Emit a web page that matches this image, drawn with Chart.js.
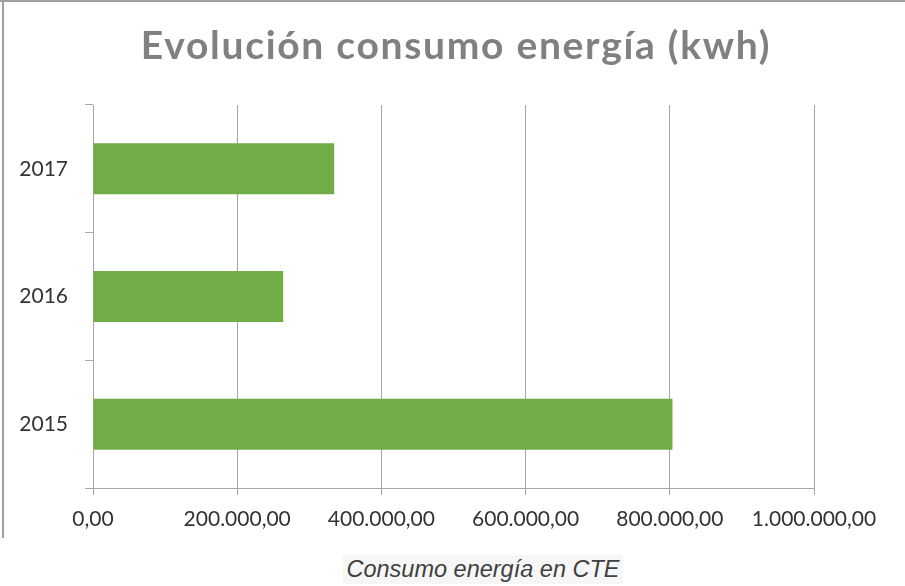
<!DOCTYPE html>
<html>
<head>
<meta charset="utf-8">
<script src="https://cdn.jsdelivr.net/npm/chart.js@4.4.1/dist/chart.umd.min.js"></script>
<style>
  html, body { margin: 0; padding: 0; background: #ffffff; }
  #wrap { position: relative; width: 905px; height: 586px; overflow: hidden; }
  #chart { position: absolute; left: 0; top: 0; width: 905px; height: 586px; }
  #topline { position: absolute; left: 0; top: 0; width: 905px; height: 2px; background: #a0a0a0; }
  #leftline { position: absolute; left: 2px; top: 0; width: 2px; height: 538px; background: #a0a0a0; }
  #title { position: absolute; left: 0; top: 25px; width: 912px; height: 39px; line-height: 39px;
    text-align: center; font-family: Lato, sans-serif; font-weight: bold; font-size: 39px;
    letter-spacing: 1.7px; color: #808080; white-space: nowrap; }
  #caption { position: absolute; left: 343px; top: 555px; width: 280px; height: 29px; background: #f6f6f6;
    font-family: "Liberation Sans", Arial, sans-serif; font-style: italic; font-size: 23.5px; color: #404040;
    line-height: 29px; text-align: center; white-space: nowrap; }
</style>
</head>
<body>
<div id="wrap">
  <canvas id="chart" width="905" height="586"></canvas>
  <div id="topline"></div>
  <div id="leftline"></div>
  <div id="title"></div>
  <div id="caption"></div>
</div>
<script>
const categories = ['2017', '2016', '2015'];
const consumo = [334500, 263800, 803700];
const xTickLabels = ['0,00', '200.000,00', '400.000,00', '600.000,00', '800.000,00', '1.000.000,00'];
const titleText = 'Evolución consumo energía (kwh)';
const captionText = 'Consumo energía en CTE';

document.getElementById('title').textContent = titleText;
document.getElementById('caption').textContent = captionText;

const gridColor = '#a6a6a6';
const tickColor = '#333333';
const tickFont = { family: 'Lato', size: 21 };

new Chart(document.getElementById('chart'), {
  type: 'bar',
  data: {
    labels: categories,
    datasets: [{
      label: captionText,
      data: consumo,
      backgroundColor: '#70ad47',
      borderWidth: 0,
      categoryPercentage: 0.8,
      barPercentage: 0.5
    }]
  },
  options: {
    indexAxis: 'y',
    responsive: false,
    animation: false,
    devicePixelRatio: 1,
    layout: { padding: { left: 0, right: 91, top: 105, bottom: 0 } },
    plugins: {
      legend: { display: false },
      tooltip: { enabled: false },
      title: { display: false }
    },
    scales: {
      x: {
        min: 0,
        max: 1000000,
        ticks: {
          stepSize: 200000,
          color: tickColor,
          font: tickFont,
          padding: 12,
          maxRotation: 0,
          autoSkip: false,
          callback: function (v, i) { return xTickLabels[i]; }
        },
        grid: { color: gridColor, lineWidth: 1, tickLength: 7, drawTicks: true },
        border: { color: gridColor, width: 1 },
        afterFit: function (s) { s.height = 98; }
      },
      y: {
        ticks: { color: tickColor, font: tickFont, padding: 17 },
        grid: { drawOnChartArea: false, drawTicks: true, tickLength: 8, color: gridColor, offset: true },
        border: { color: gridColor, width: 1 },
        afterFit: function (s) { s.width = 93; }
      }
    }
  }
});
</script>
</body>
</html>
